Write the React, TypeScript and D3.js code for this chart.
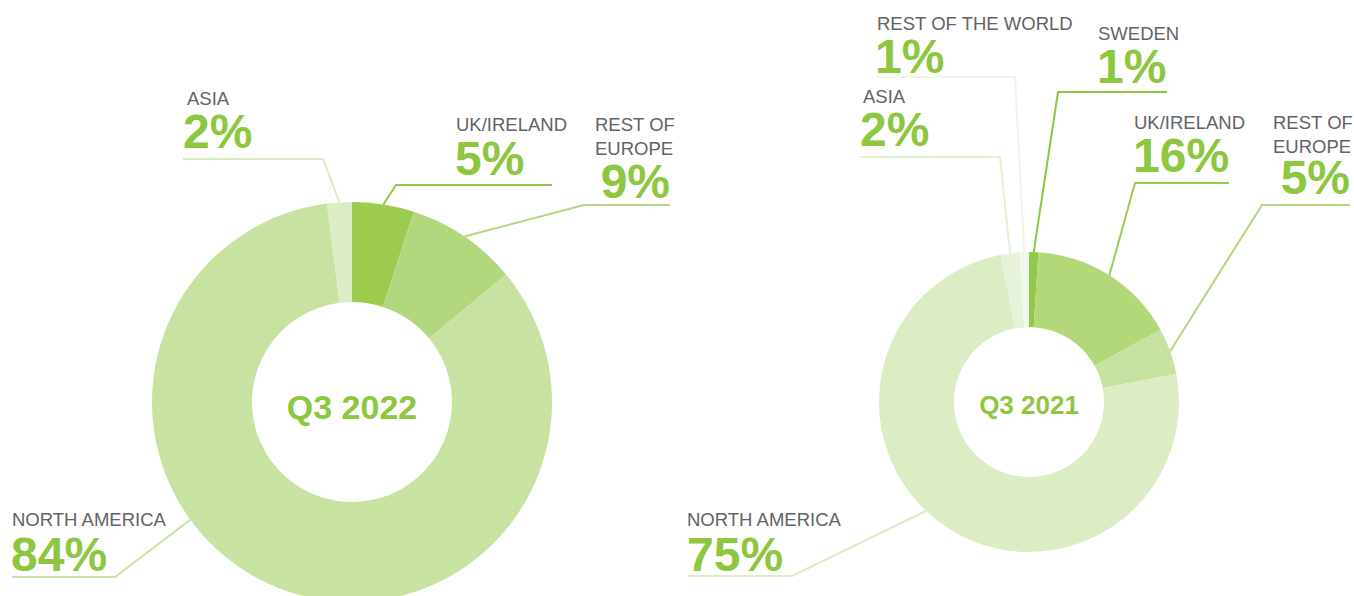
import React from "react";
import * as d3 from "d3";

// ---- data ----
const regions2022 = ["UK/IRELAND", "REST OF EUROPE", "NORTH AMERICA", "ASIA"];
const values2022 = [5, 9, 84, 2];
const colors2022 = ["#9ccb4f", "#b3d77c", "#c7e2a1", "#dcecc5"];
const lineColors2022 = ["#92c84a", "#b3d77c", "#c7e2a1", "#dcecc5"];

const regions2021 = ["SWEDEN", "UK/IRELAND", "REST OF EUROPE", "NORTH AMERICA", "ASIA", "REST OF THE WORLD"];
const values2021 = [1, 16, 5, 75, 2, 1];
const colors2021 = ["#92c84a", "#b2d87a", "#c6e2a0", "#dcecc4", "#e7f2da", "#f1f8ea"];
const lineColors2021 = ["#8dc63f", "#9ccb54", "#b2d77a", "#dcecc4", "#e3f0d4", "#eef6e6"];

const periods = ["Q3 2022", "Q3 2021"];

// ---- layout (annotation placement) ----
type LabelLayout = {
  lines: string[];
  lx: number; ly: number;
  px: number; py: number; pAnchor: "start" | "end";
  hx: number; ex: number; ey: number; frac: number;
};

const splitLabel = (s: string) => (s === "REST OF EUROPE" ? ["REST OF", "EUROPE"] : [s]);

const layout2022: LabelLayout[] = [
  { lines: splitLabel(regions2022[0]), lx: 456, ly: 131, px: 455, py: 175, pAnchor: "start", hx: 552, ex: 396, ey: 185, frac: 0.5 },
  { lines: splitLabel(regions2022[1]), lx: 595, ly: 131, px: 670, py: 198, pAnchor: "end", hx: 670, ex: 584, ey: 205, frac: 0.5 },
  { lines: splitLabel(regions2022[2]), lx: 12, ly: 526, px: 11, py: 571, pAnchor: "start", hx: 12, ex: 115, ey: 577, frac: 0.607 },
  { lines: splitLabel(regions2022[3]), lx: 187, ly: 105, px: 183, py: 148, pAnchor: "start", hx: 183, ex: 323, ey: 159, frac: 0.5 },
];

const layout2021: LabelLayout[] = [
  { lines: splitLabel(regions2021[0]), lx: 1098, ly: 40, px: 1097, py: 83, pAnchor: "start", hx: 1167, ex: 1058, ey: 92, frac: 0.5 },
  { lines: splitLabel(regions2021[1]), lx: 1134, ly: 129, px: 1133, py: 172, pAnchor: "start", hx: 1229, ex: 1135, ey: 183, frac: 0.5 },
  { lines: splitLabel(regions2021[2]), lx: 1273, ly: 129, px: 1350, py: 194, pAnchor: "end", hx: 1350, ex: 1262, ey: 205, frac: 0.5 },
  { lines: splitLabel(regions2021[3]), lx: 687, ly: 526, px: 687, py: 571, pAnchor: "start", hx: 688, ex: 792, ey: 576, frac: 0.534 },
  { lines: splitLabel(regions2021[4]), lx: 863, ly: 103, px: 860, py: 146, pAnchor: "start", hx: 860, ex: 1000, ey: 157, frac: 0.5 },
  { lines: splitLabel(regions2021[5]), lx: 877, ly: 30, px: 875, py: 73, pAnchor: "start", hx: 876, ex: 1015, ey: 77, frac: 0.5 },
];

const LABEL_FONT = "'Liberation Sans', Arial, Helvetica, sans-serif";
const GREEN = "#8dc63f";
const GREY = "#636365";

type DonutProps = {
  values: number[];
  colors: string[];
  lineColors: string[];
  layout: LabelLayout[];
  cx: number; cy: number; r: number; ir: number;
  title: string; titleSize: number; titleY: number;
};

function Donut({ values, colors, lineColors, layout, cx, cy, r, ir, title, titleSize, titleY }: DonutProps) {
  const pie = d3.pie<number>().sort(null).value((d) => d)(values);
  const arc = d3.arc<d3.PieArcDatum<number>>().innerRadius(ir).outerRadius(r);
  return (
    <g>
      <g transform={`translate(${cx},${cy})`}>
        {pie.map((p, i) => (
          <path key={i} d={arc(p) || ""} fill={colors[i]} />
        ))}
      </g>
      <text x={cx} y={titleY} textAnchor="middle" fontFamily={LABEL_FONT} fontWeight="bold" fontSize={titleSize} fill={GREEN}>
        {title}
      </text>
      {pie.map((p, i) => {
        const L = layout[i];
        const a = p.startAngle + (p.endAngle - p.startAngle) * L.frac;
        const ax = cx + r * Math.sin(a);
        const ay = cy - r * Math.cos(a);
        const pts: [number, number][] = [[ax, ay], [L.ex, L.ey], [L.hx, L.ey]];
        return (
          <g key={"l" + i}>
            <path d={d3.line()(pts) || ""} fill="none" stroke={lineColors[i]} strokeWidth={2} />
            {L.lines.map((t, j) => (
              <text key={j} x={L.lx} y={L.ly + j * 24} fontFamily={LABEL_FONT} fontSize={18.5} fill={GREY}>
                {t}
              </text>
            ))}
            <text x={L.px} y={L.py} textAnchor={L.pAnchor} fontFamily={LABEL_FONT} fontWeight="bold" fontSize={48} fill={GREEN}>
              {`${values[i]}%`}
            </text>
          </g>
        );
      })}
    </g>
  );
}

export default function App() {
  return (
    <svg width={1354} height={596} style={{ position: "absolute", left: 0, top: 0, background: "#fff" }}>
      <Donut values={values2022} colors={colors2022} lineColors={lineColors2022}
        layout={layout2022} cx={352} cy={402} r={200} ir={100} title={periods[0]} titleSize={34} titleY={419} />
      <Donut values={values2021} colors={colors2021} lineColors={lineColors2021}
        layout={layout2021} cx={1029} cy={402} r={150} ir={75} title={periods[1]} titleSize={26} titleY={414} />
    </svg>
  );
}
